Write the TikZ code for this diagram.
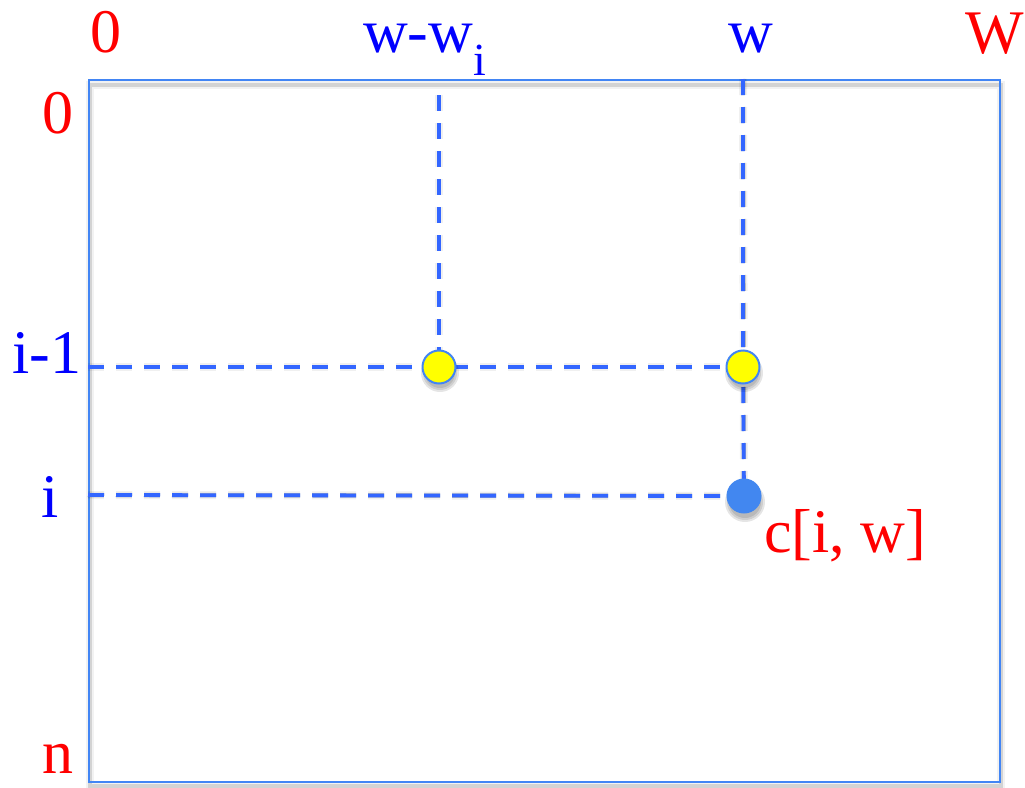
\documentclass[tikz,border=0pt]{standalone}
\usepackage{fontspec}
\setmainfont{Liberation Serif}
\definecolor{framecol}{RGB}{66,133,244}
\definecolor{dashcol}{RGB}{51,102,255}
\definecolor{dotblue}{RGB}{66,135,240}
\definecolor{dotyellow}{RGB}{255,255,0}
\begin{document}
\begin{tikzpicture}[x=1pt,y=-1pt,
  lbl/.style={font=\fontsize{62}{62}\selectfont, inner sep=0pt, anchor=base},
  redlbl/.style={lbl, text=red},
  bluelbl/.style={lbl, text=blue},
  gridline/.style={draw=dashcol, line width=3.8pt, dash pattern=on 16pt off 12pt},
  gridshade/.style={draw=black, line width=4.5pt, opacity=0.22, dash pattern=on 16pt off 12pt},
  gridhalo/.style={draw=black, line width=8pt, opacity=0.06, dash pattern=on 16pt off 12pt},
  frameshade/.style={draw=black, line width=4pt, opacity=0.13},
  ydot/.style={circle, minimum size=33pt, inner sep=0pt, fill=dotyellow, draw=framecol, line width=2pt},
  bdot/.style={circle, minimum size=35pt, inner sep=0pt, fill=dotblue},
  dotshade/.style={fill=black, opacity=0.10}
]
\useasboundingbox (0,0) rectangle (1025,787);

% table frame with its soft shadow
\draw[frameshade] (90,85) rectangle (1001,786);
\draw[frameshade, line width=8pt, opacity=0.05] (90,85) rectangle (1001,786);
\node[draw=framecol, line width=2pt, minimum width=911pt, minimum height=702pt,
      inner sep=0pt, anchor=north west] (frame) at (88,79) {};

% free ends of the guide lines
\coordinate (topA) at (439,95);
\coordinate (topB) at (743,79);
\coordinate (leftA) at (88,367);
\coordinate (leftB) at (88,495);

% cells
\coordinate (a) at (439,367);
\coordinate (b) at (743,367);
\coordinate (c) at (744,496);

% guide line shadows
\begin{scope}[yshift=-6pt, xshift=1pt]
  \draw[gridshade] (leftA) -- (b);
  \draw[gridshade] (leftB) -- (c);
  \draw[gridshade] (topA) -- (a);
  \draw[gridshade] (topB) -- (c);
  \draw[gridhalo] (leftA) -- (b);
  \draw[gridhalo] (leftB) -- (c);
  \draw[gridhalo] (topA) -- (a);
  \draw[gridhalo] (topB) -- (c);
\end{scope}

% guide lines
\draw[gridline] (leftA) -- (a) -- (b);
\draw[gridline] (leftB) -- (c);
\draw[gridline] (topA) -- (a);
\draw[gridline] (topB) -- (b) -- (c);

% dot shadows
\foreach \p/\r in {a/16, b/16, c/17} {
  \fill[dotshade] ([shift={(1pt,-6pt)}]\p) circle (\r+3);
  \fill[dotshade] ([shift={(1pt,-6pt)}]\p) circle (\r+1);
  \fill[dotshade] ([shift={(1pt,-6pt)}]\p) circle (\r-1);
}

% cells
\node[ydot] (cellA) at (a) {};
\node[ydot] (cellB) at (b) {};
\node[bdot] (cellC) at (c) {};

% column labels
\node[redlbl] (col0) at (106,52) {0};
\node[bluelbl, anchor=base west] (colA) at (363,52) {w-w\raisebox{-23pt}{\fontsize{46}{46}\selectfont i}};
\node[bluelbl] (colB) at (751,52) {w};
\node[redlbl, anchor=base west] (colW) at (965,53) {W};

% row labels
\node[redlbl] (row0) at (58,133) {0};
\node[bluelbl, anchor=base west] (rowA) at (12,373) {i-1};
\node[bluelbl] (rowB) at (50,517) {i};
\node[redlbl] (rowN) at (58,773) {n};

% cell label
\node[redlbl, anchor=base west] (cellLabel) at (764,552) {c[i, w]};
\end{tikzpicture}
\end{document}
